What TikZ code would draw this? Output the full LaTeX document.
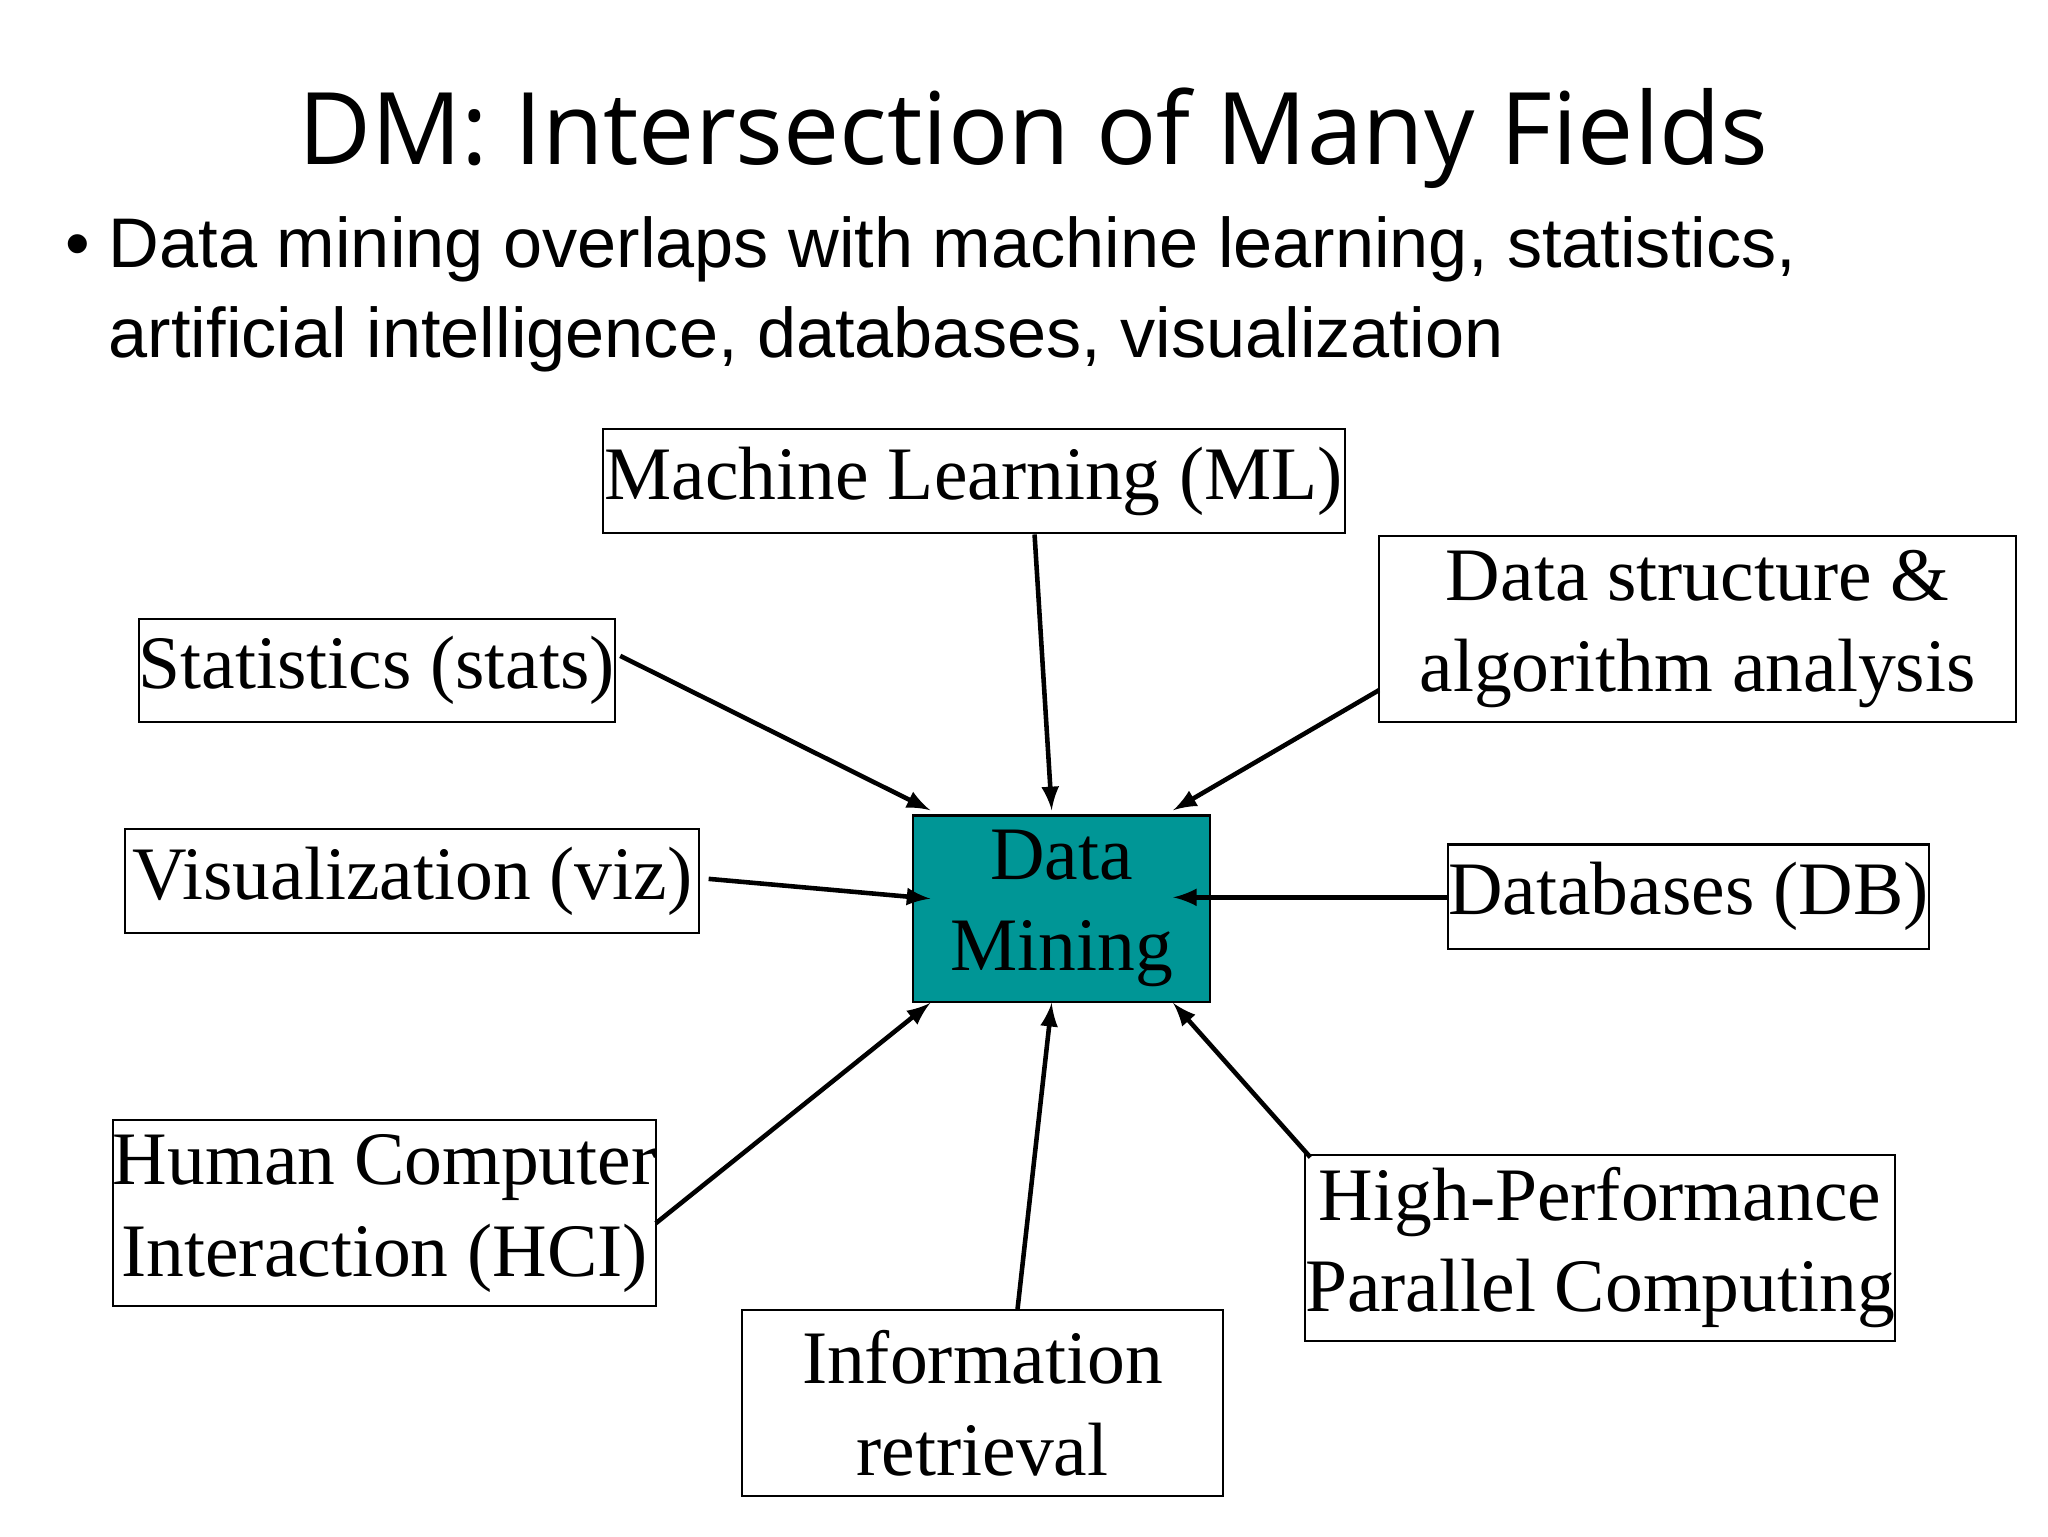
\documentclass[tikz,border=0pt]{standalone}
\usepackage{fontspec}
\setmainfont{Liberation Serif}
\newfontfamily\bodyf{Liberation Sans}
\newfontfamily\titlef{Open Sans}
\definecolor{teal1}{RGB}{0,150,150}
\begin{document}
\begin{tikzpicture}[x=0.013196cm,y=-0.013196cm,
 box/.style={draw,line width=0.6pt,inner sep=0pt,font=\fontsize{21.5}{26}\selectfont,align=center},
 arr/.style={-latex,line width=1.3pt}]
\useasboundingbox (0,0) rectangle (1552,1164);
\node[anchor=base,font=\titlef\fontsize{28.5}{34}\selectfont] (title) at (783,125) {DM: Intersection of Many Fields};
\node[anchor=base west,font=\bodyf\fontsize{20}{24}\selectfont] (bul) at (40,203) {•};
\node[anchor=base west,font=\bodyf\fontsize{20}{24}\selectfont,inner sep=0pt] (t1) at (82,203) {Data mining overlaps with machine learning, statistics,};
\node[anchor=base west,font=\bodyf\fontsize{20}{24}\selectfont,inner sep=0pt] (t2) at (82,271) {artificial intelligence, databases, visualization};
\node[box,minimum width={562*0.013196cm},minimum height={79*0.013196cm}] (ml) at (738,364.5) {Machine Learning (ML)};
\node[box,minimum width={361*0.013196cm},minimum height={78*0.013196cm}] (st) at (285.5,508) {Statistics (stats)};
\node[box,minimum width={483*0.013196cm},minimum height={141*0.013196cm}] (ds) at (1286.5,476.5) {Data structure \&\\algorithm analysis};
\node[box,minimum width={435*0.013196cm},minimum height={79*0.013196cm}] (vz) at (312.5,667.5) {Visualization (viz)};
\node[box,fill=teal1,minimum width={225*0.013196cm},minimum height={141*0.013196cm}] (dm) at (804.5,688.5) {Data\\Mining};
\node[box,minimum width={363*0.013196cm},minimum height={79*0.013196cm}] (db) at (1279.5,679.5) {Databases (DB)};
\node[box,minimum width={407*0.013196cm},minimum height={141*0.013196cm}] (hci) at (291.5,919.5) {Human Computer\\Interaction (HCI)};
\node[box,minimum width={365*0.013196cm},minimum height={141*0.013196cm}] (ir) at (744.5,1063.5) {Information\\retrieval};
\node[box,minimum width={439*0.013196cm},minimum height={141*0.013196cm}] (hpc) at (1212.5,945.5) {High-Performance\\Parallel Computing};
\coordinate (a1) at (784,405); \coordinate (b1) at (797,614);
\coordinate (a2) at (470,497); \coordinate (b2) at (705,614);
\coordinate (a3) at (1045,523); \coordinate (b3) at (889,614);
\coordinate (a4) at (537,666); \coordinate (b4) at (705,681);
\coordinate (a5) at (1098,680); \coordinate (b5) at (889,680);
\coordinate (a6) at (497,927); \coordinate (b6) at (705,760);
\coordinate (a7) at (771,993); \coordinate (b7) at (797,760);
\coordinate (a8) at (993,877); \coordinate (b8) at (889,760);
\foreach \i in {1,...,8} \draw[arr] (a\i) -- (b\i);
\end{tikzpicture}
\end{document}
